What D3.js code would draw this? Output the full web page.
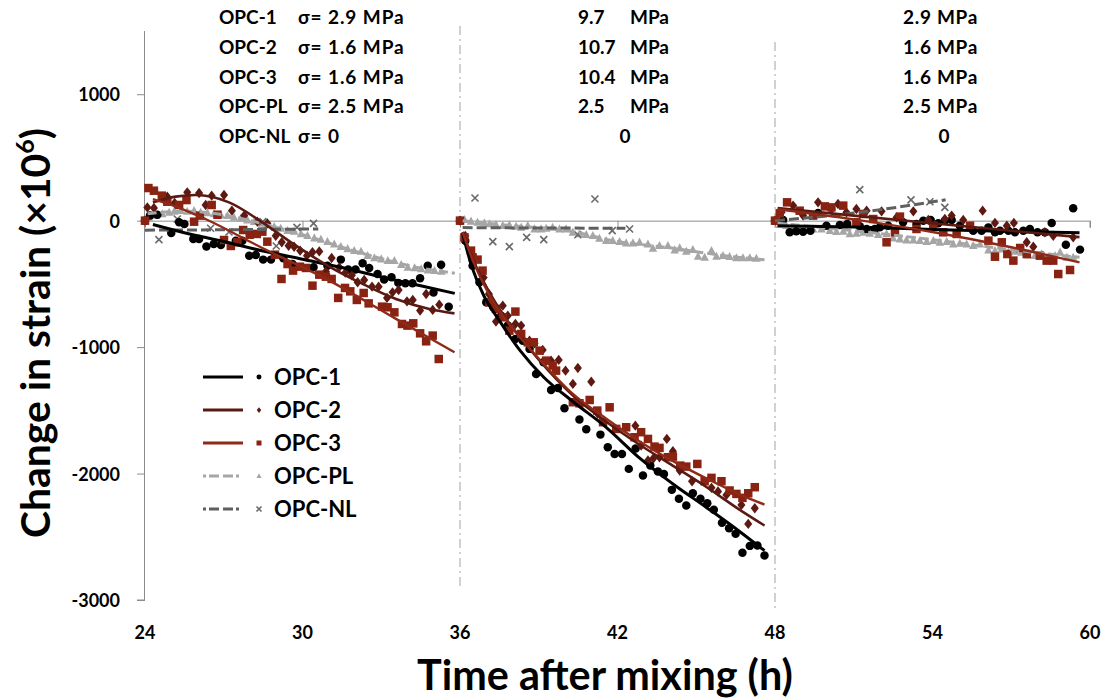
<!DOCTYPE html>
<html>
<head>
<meta charset="utf-8">
<script src="https://cdn.jsdelivr.net/npm/d3@7"></script>
<style>
  html, body { margin: 0; padding: 0; background: #fff; }
  svg text { font-family: Lato, "Open Sans", sans-serif; font-weight: 700; fill: #000; }
</style>
</head>
<body>
<svg id="chart" width="1110" height="700"></svg>
<script>
// ---------------- DATA ----------------
const xTicks = [24, 30, 36, 42, 48, 54, 60];
const yTicks = [1000, 0, -1000, -2000, -3000];
const seriesNames = ["OPC-1", "OPC-2", "OPC-3", "OPC-PL", "OPC-NL"];
const loadTimes = [36, 48];

// annotation rows (stress per stage)
const stage1Labels = ["OPC-1", "OPC-2", "OPC-3", "OPC-PL", "OPC-NL"];
const stage1Stress = ["σ= 2.9 MPa", "σ= 1.6 MPa", "σ= 1.6 MPa", "σ= 2.5 MPa", "σ= 0"];
const stage2Stress = ["9.7", "10.7", "10.4", "2.5", "0"];
const stage3Stress = ["2.9", "1.6", "1.6", "2.5", "0"];

// OPC-1 measured points [h, microstrain]
const opc1Points = [
  [24,0],[24.19,40],[24.47,47],[25.0,-98],[25.3,-13],[25.5,-26],[25.84,-145],[26.06,-145],[26.34,-205],[26.62,-184],
  [26.89,-192],[27.46,-158],[27.71,-158],[27.97,-277],[28.22,-271],[28.5,-308],[28.8,-308],[29.27,-298],[29.62,-343],
  [30.42,-369],[30.95,-356],[31.46,-308],[31.74,-387],[32.02,-387],[32.29,-337],[32.54,-374],[32.86,-421],[33.11,-466],
  [33.39,-448],[33.65,-492],[33.92,-495],[34.19,-495],[34.48,-456],[34.77,-356],[34.99,-569],[35.28,-348],[35.57,-680],
  [36,0],[36.2,-158],[36.48,-356],[36.74,-487],[37.0,-646],[37.27,-685],[37.57,-751],[37.82,-830],[38.11,-935],[38.39,-949],
  [38.65,-1014],[38.9,-1212],[39.18,-1120],[39.47,-1339],[39.73,-1323],[39.98,-1484],[40.55,-1573],[40.81,-1650],
  [41.35,-1692],[41.63,-1792],[41.89,-1845],[42.17,-1845],[42.43,-1963],[42.69,-1802],[42.97,-2016],[43.25,-1937],
  [43.54,-1984],[43.77,-2003],[44.07,-2129],[44.34,-2200],[44.62,-2253],[44.87,-2156],[45.16,-2200],[45.42,-2235],
  [45.67,-2287],[45.98,-2390],[46.25,-2432],[46.5,-2477],[46.76,-2627],[47.04,-2572],[47.33,-2569],[47.6,-2648],
  [48,0],[48.31,5],[48.56,-92],[48.81,-84],[49.07,-87],[49.35,-79],[49.64,61],[49.96,-40],[50.47,-34],[50.75,-26],
  [51.23,-45],[51.49,-66],[51.8,-66],[51.99,-53],[52.31,-40],[52.88,-13],[53.39,-26],[53.65,0],[53.93,5],[54.22,-21],
  [54.47,0],[54.73,5],[55.04,-40],[55.55,-79],[55.87,-79],[56.13,-53],[56.38,-92],[56.57,-79],[56.89,-79],[57.14,-92],
  [57.46,-79],[57.71,-66],[58.0,-92],[58.28,-92],[58.54,-18],[59.08,-190],[59.36,98],[59.62,-229]
];
const opc2Points = [
  [24,0],[24.09,105],[24.34,100],[24.85,190],[25.13,140],[25.61,224],[26.06,219],[26.31,124],[26.54,198],[27.01,203],
  [27.31,79],[27.78,40],[28.28,-8],[28.66,-21],[28.98,-119],[29.21,-171],[29.47,-198],[29.68,-206],[29.91,-237],
  [30.17,-277],[30.38,-250],[30.64,-243],[30.89,-403],[31.11,-295],[31.4,-369],[31.63,-411],[31.88,-432],[32.1,-487],
  [32.35,-469],[32.65,-522],[32.9,-522],[33.22,-611],[33.43,-567],[33.66,-548],[33.98,-638],[34.2,-627],[34.48,-711],
  [34.71,-580],[34.96,-706],[35.21,-664],
  [36,0],[36.2,-120],[36.5,-300],[36.9,-450],[37.1,-580],[37.37,-798],[37.63,-672],[37.82,-751],[38.11,-817],[38.33,-830],
  [38.65,-949],[38.84,-970],[39.15,-1022],[39.47,-1107],[39.76,-1101],[40.02,-1186],[40.3,-1291],[40.49,-1165],
  [41.0,-1273],[41.25,-1528],[42.68,-1621],[42.9,-1779],[43.16,-1897],[43.37,-1879],[43.6,-1871],[43.88,-1726],
  [44.11,-1823],[44.37,-1976],[44.84,-2061],[45.58,-2113],[45.83,-2142],[46.15,-2169],[46.72,-2248],[46.98,-2398],[47.23,-2274],
  [48,0],[48.25,66],[48.69,119],[49.07,40],[49.64,145],[50.15,92],[50.4,132],[50.72,66],[51.1,92],[51.49,79],[52.06,74],
  [52.63,26],[53.27,74],[53.84,5],[54.47,13],[54.73,40],[55.17,5],[55.91,79],[56.38,-18],[56.83,-40],[57.1,-18],
  [57.59,-171],[57.84,-206],[58.28,-92],[58.6,-119],[59.36,-132]
];
const opc3Points = [
  [24,0],[24.13,258],[24.34,237],[24.64,198],[24.85,150],[25.3,124],[25.58,163],[25.87,-8],[26.09,40],[26.54,124],
  [26.76,47],[27.01,-153],[27.27,-200],[27.52,-171],[27.74,-74],[27.99,-111],[28.26,-105],[28.47,-87],[28.66,-166],
  [28.95,-269],[29.2,-461],[29.43,-343],[29.64,-395],[29.9,-364],[30.13,-374],[30.38,-514],[30.64,-427],[30.89,-443],
  [31.11,-461],[31.36,-611],[31.62,-532],[31.82,-559],[32.07,-627],[32.33,-572],[32.52,-654],[33.03,-680],[33.24,-685],
  [33.5,-725],[33.79,-817],[34.0,-830],[34.22,-812],[34.48,-891],[34.71,-954],[34.96,-909],[35.19,-1094],
  [36,0],[36.17,-132],[36.42,-237],[36.48,-290],[36.67,-308],[36.86,-395],[37.12,-646],[37.37,-698],[37.63,-764],
  [37.88,-870],[38.11,-719],[38.33,-896],[38.58,-962],[38.81,-962],[39.03,-1028],[39.28,-1107],[39.53,-1146],
  [39.66,-1186],[40.3,-1436],[40.55,-1444],[40.94,-1418],[41.23,-1502],[41.45,-1594],[41.7,-1476],[41.95,-1647],
  [42.33,-1634],[42.65,-1713],[42.9,-1673],[43.16,-1726],[43.41,-1787],[43.6,-1797],[43.92,-1871],[44.11,-1866],
  [44.39,-1937],[44.62,-1945],[45.04,-1924],[45.32,-2061],[45.58,-2034],[45.96,-2061],[46.27,-2134],[46.53,-2161],
  [46.76,-2192],[46.98,-2156],[47.23,-2108],
  [48,0],[48.18,58],[48.46,145],[48.94,79],[49.45,40],[49.9,113],[50.15,105],[50.6,119],[51.1,-13],[51.36,53],
  [51.74,13],[52.25,-171],[52.57,-92],[52.76,32],[53.39,-66],[54.03,-40],[54.41,-92],[54.92,-105],[55.43,-40],
  [56.13,-158],[56.38,-285],[56.64,-171],[56.85,-264],[57.08,-316],[57.34,-216],[57.59,-264],[58.09,-277],
  [58.35,-316],[58.6,-316],[58.79,-422],[59.24,-390]
];
const plPoints = [
  [24,0],[24.15,26],[24.41,40],[24.66,53],[24.92,66],[25.11,74],[25.36,79],[25.61,74],[25.87,79],[26.12,66],[26.38,61],
  [26.63,53],[26.89,45],[27.14,40],[27.39,26],[27.65,18],[27.9,5],[28.16,-8],[28.41,-21],[28.66,-34],[28.92,-47],
  [29.17,-61],[29.43,-79],[29.68,-84],[29.94,-105],[30.19,-119],[30.45,-137],[30.7,-148],[30.95,-166],[31.21,-185],
  [31.46,-206],[31.72,-222],[31.97,-237],[32.23,-243],[32.48,-277],[32.74,-295],[33.0,-303],[33.25,-316],[33.5,-316],
  [33.76,-348],[34.01,-369],[34.27,-374],[34.52,-382],[34.78,-390],[35.03,-395],[35.29,-401],
  [36,0],[36.17,8],[36.42,-5],[36.67,-13],[36.93,-18],[37.12,-26],[37.37,-32],[37.63,-40],[37.88,-34],[38.14,-45],
  [38.33,-53],[38.58,-40],[38.84,-66],[39.09,-66],[39.28,-61],[39.53,-53],[39.79,-66],[40.04,-66],[40.3,-92],
  [40.55,-105],[40.81,-111],[41.06,-119],[41.31,-140],[41.57,-158],[41.82,-158],[42.08,-166],[42.33,-177],[42.59,-177],
  [42.84,-171],[43.16,-185],[43.35,-219],[43.6,-198],[43.92,-198],[44.18,-232],[44.37,-216],[44.62,-243],[44.87,-229],
  [45.07,-282],[45.32,-290],[45.58,-237],[45.77,-282],[46.02,-277],[46.27,-285],[46.53,-295],[46.78,-295],[47.04,-295],
  [47.29,-298],
  [48,0],[48.18,-32],[48.43,-40],[48.69,-53],[48.94,-66],[49.2,-74],[49.45,-66],[49.77,-66],[50.09,-79],[50.34,-87],
  [50.6,-84],[50.85,-105],[51.1,-100],[51.36,-92],[51.61,-100],[51.93,-111],[52.25,-105],[52.5,-137],[52.76,-145],
  [53.01,-153],[53.27,-153],[53.52,-158],[53.78,-166],[54.03,-158],[54.28,-171],[54.54,-166],[54.79,-185],[55.04,-179],
  [55.3,-185],[55.55,-198],[55.81,-185],[56.13,-232],[56.38,-237],[56.64,-224],[56.89,-250],[57.14,-243],[57.39,-250],
  [57.65,-272],[57.9,-277],[58.16,-263],[58.41,-285],[58.67,-277],[58.86,-250],[59.12,-290],[59.36,-290]
];
const nlPoints = [
  [24,0],[24.53,-150],[25.23,13],[25.87,-140],[26.5,-60],[27.2,-90],[28.49,-8],[29.0,-200],[29.79,-53],[30.42,-21],
  [36,0],[36.57,179],[37.25,-166],[37.88,-205],[38.54,-132],[39.19,-150],[40.49,-111],[41.14,171],[41.8,-79],[42.46,-66],
  [48,0],[51.23,245],[53.18,164],[53.9,150],[54.47,105]
];

// fitted trend lines, one array per stage
const opc1Fit = [
  [[24.3,-30],[25.5,-95],[27,-165],[28.5,-240],[30,-305],[31.5,-370],[33,-445],[34.5,-515],[35.8,-575]],
  [[36.1,-100],[36.4,-330],[36.9,-590],[37.5,-790],[38.3,-1030],[39.2,-1240],[40.3,-1430],[41.6,-1640],[42.8,-1870],[44.1,-2080],[45.4,-2270],[46.6,-2450],[47.6,-2610]],
  [[48.1,-40],[51,-50],[54,-70],[57,-85],[59.6,-95]]
];
const opc2Fit = [
  [[24.3,145],[25.17,190],[25.93,203],[27.2,145],[28.47,-13],[29.75,-198],[31.02,-363],[32.29,-500],[33.56,-619],[34.83,-698],[35.79,-733]],
  [[36.1,-90],[36.5,-310],[37.1,-560],[37.8,-790],[38.4,-950],[39.0,-1100],[40.3,-1383],[41.6,-1594],[42.8,-1766],[44.1,-1937],[45.4,-2108],[46.6,-2279],[47.6,-2411]],
  [[48.1,100],[51,40],[54,-20],[57,-80],[59.6,-130]]
];
const opc3Fit = [
  [[24.3,170],[25.2,110],[26.3,13],[28.47,-216],[31.02,-474],[33.56,-777],[35.79,-1041]],
  [[36.1,-90],[36.5,-320],[37.1,-580],[37.8,-800],[38.4,-950],[39.0,-1090],[40.3,-1370],[41.6,-1570],[42.8,-1740],[44.1,-1900],[45.4,-2040],[46.6,-2160],[47.6,-2245]],
  [[48.1,90],[51,10],[54,-90],[57,-210],[59.6,-330]]
];
const plFit = [
  [[24.1,55],[25.5,75],[27,45],[28.5,-25],[30,-110],[31.5,-210],[33,-300],[34.5,-375],[35.8,-415]],
  [[36.1,0],[38,-40],[40,-75],[42,-165],[44,-215],[46,-275],[47.6,-310]],
  [[48.1,-20],[51,-80],[54,-150],[57,-230],[59.6,-290]]
];
const nlFit = [
  [[24,-75],[27,-72],[30.6,-65]],
  [[36.1,-55],[39,-58],[42.3,-60]],
  [[48,0],[51,60],[54.5,165]]
];

// ---------------- DRAW ----------------
const svg = d3.select("#chart");
const x = d3.scaleLinear().domain([24, 60]).range([145, 1090]);
const y = d3.scaleLinear().domain([-3000, 1500]).range([600, 31]);

const styles = {
  "OPC-1": { color: "#000000", line: "#000000", width: 3, dash: null, marker: "circle" },
  "OPC-2": { color: "#5e1a12", line: "#5a1a12", width: 2.6, dash: null, marker: "diamond" },
  "OPC-3": { color: "#8a2212", line: "#902a18", width: 2.4, dash: null, marker: "square" },
  "OPC-PL": { color: "#a6a6a6", line: "#a6a6a6", width: 3, dash: "9,4", marker: "triangle" },
  "OPC-NL": { color: "#6a6a6a", line: "#5f5f5f", width: 3, dash: "10,4", marker: "cross" }
};
const pointsBy = { "OPC-1": opc1Points, "OPC-2": opc2Points, "OPC-3": opc3Points, "OPC-PL": plPoints, "OPC-NL": nlPoints };
const fitBy = { "OPC-1": opc1Fit, "OPC-2": opc2Fit, "OPC-3": opc3Fit, "OPC-PL": plFit, "OPC-NL": nlFit };

function markerPath(type, s) {
  const h = s / 2;
  switch (type) {
    case "circle": return d3.symbol(d3.symbolCircle, s * s * 0.78)();
    case "diamond": return `M0,${-h * 1.15}L${h * 0.9},0L0,${h * 1.15}L${-h * 0.9},0Z`;
    case "square": return `M${-h},${-h}H${h}V${h}H${-h}Z`;
    case "triangle": return `M0,${-h * 1.1}L${h},${h * 0.8}L${-h},${h * 0.8}Z`;
    case "cross": return `M${-h},${-h}L${h},${h}M${-h},${h}L${h},${-h}`;
  }
}
function drawMarker(g, type, color, s, px, py) {
  const p = g.append("path").attr("d", markerPath(type, s)).attr("transform", `translate(${px},${py})`);
  if (type === "cross") p.attr("fill", "none").attr("stroke", color).attr("stroke-width", 1.6);
  else p.attr("fill", color);
}

// axes
const axisColor = "#8c8c8c";
const yAxis = d3.axisLeft(y).tickValues(yTicks).tickSize(8).tickFormat(d3.format("d"));
const gy = svg.append("g").attr("transform", `translate(${x(24)},0)`).call(yAxis);
gy.select(".domain").attr("stroke", axisColor).attr("d", `M-0.5,${y(1500)}V${y(-3000)}H-8`);
gy.selectAll(".tick line").attr("stroke", axisColor);
gy.selectAll(".tick text").attr("font-size", 18).attr("x", -25).attr("dy", "0.36em")
  .style("font-family", "Lato, sans-serif").style("font-weight", 700).attr("fill", "#000")
  .text(d => d < 0 ? "-" + Math.abs(d) : d);

// x zero line with ticks going down
const xAxis = d3.axisBottom(x).tickValues(xTicks).tickSize(7).tickFormat("");
const gx = svg.append("g").attr("transform", `translate(0,${y(0)})`).call(xAxis);
gx.select(".domain").attr("stroke", axisColor).attr("d", `M${x(24)},0.5H${x(60)}V7`);
gx.selectAll(".tick line").attr("stroke", axisColor);

// x tick labels at the bottom
svg.append("g").selectAll("text").data(xTicks).join("text")
  .attr("x", d => x(d)).attr("y", 639).attr("text-anchor", "middle").attr("font-size", 18)
  .text(d => d);

// load-change vertical dash-dot lines
svg.append("g").selectAll("line").data(loadTimes).join("line")
  .attr("x1", d => x(d)).attr("x2", d => x(d))
  .attr("y1", (d, i) => i === 0 ? 26 : 42).attr("y2", (d, i) => i === 0 ? 588 : 610)
  .attr("stroke", "#b3b3b3").attr("stroke-width", 1.2).attr("stroke-dasharray", "9,4,2,4");

// points
const drawOrder = ["OPC-PL", "OPC-NL", "OPC-1", "OPC-2", "OPC-3"];
const sizes = { "OPC-1": 8.5, "OPC-2": 9, "OPC-3": 8.5, "OPC-PL": 8.5, "OPC-NL": 7 };
drawOrder.forEach(name => {
  const st = styles[name];
  const g = svg.append("g");
  pointsBy[name].forEach(p => drawMarker(g, st.marker, st.color, sizes[name], x(p[0]), y(p[1])));
});

// fit lines
const line = d3.line().x(d => x(d[0])).y(d => y(d[1])).curve(d3.curveMonotoneX);
["OPC-PL", "OPC-NL", "OPC-1", "OPC-2", "OPC-3"].forEach(name => {
  const st = styles[name];
  fitBy[name].forEach(seg => {
    svg.append("path").attr("d", line(seg)).attr("fill", "none")
      .attr("stroke", st.line).attr("stroke-width", st.width)
      .attr("stroke-dasharray", st.dash);
  });
});

// legend
const legendRows = [377, 410, 443, 476, 509];
const lg = svg.append("g");
seriesNames.forEach((name, i) => {
  const st = styles[name];
  const yy = legendRows[i];
  lg.append("line").attr("x1", 203).attr("x2", 243).attr("y1", yy).attr("y2", yy)
    .attr("stroke", st.line).attr("stroke-width", 3).attr("stroke-dasharray", st.dash ? "3,3,10,4,10" : null);
  drawMarker(lg, st.marker, st.color, 5, 259, yy);
  lg.append("text").attr("x", 274).attr("y", yy + 8).attr("font-size", 22).text(name);
});

// annotations
const rowY = [24, 54, 84, 113, 143];
const ann = svg.append("g");
const aSize = 19;
stage1Labels.forEach((t, i) => {
  ann.append("text").attr("x", 219).attr("y", rowY[i]).attr("font-size", aSize).text(t);
  ann.append("text").attr("x", 298).attr("y", rowY[i]).attr("font-size", aSize)
    .attr("letter-spacing", 0.9).text(stage1Stress[i]);
});
stage2Stress.forEach((t, i) => {
  if (t === "0") {
    ann.append("text").attr("x", 625).attr("y", rowY[i]).attr("text-anchor", "middle").attr("font-size", aSize).text(t);
  } else {
    ann.append("text").attr("x", 578).attr("y", rowY[i]).attr("font-size", aSize).text(t);
    ann.append("text").attr("x", 669).attr("y", rowY[i]).attr("text-anchor", "end").attr("font-size", aSize).text("MPa");
  }
});
stage3Stress.forEach((t, i) => {
  if (t === "0") {
    ann.append("text").attr("x", 944).attr("y", rowY[i]).attr("text-anchor", "middle").attr("font-size", aSize).text(t);
  } else {
    ann.append("text").attr("x", 903).attr("y", rowY[i]).attr("font-size", aSize)
      .attr("letter-spacing", 0.7).text(t + " MPa");
  }
});

// axis titles (font size adjusted so the title spans the same length as in the original)
const yt = svg.append("text").attr("transform", "translate(50,333) rotate(-90)")
  .attr("text-anchor", "middle").attr("font-size", 36);
yt.append("tspan").text("Change in strain (×10");
yt.append("tspan").attr("font-size", 22).attr("dy", -14).text("6");
yt.append("tspan").attr("dy", 14).text(")");
const ytLen = yt.node().getComputedTextLength();
const ytScale = 410 / ytLen;
yt.attr("font-size", 36 * ytScale);
yt.selectAll("tspan").filter((d, i) => i === 1).attr("font-size", 22 * ytScale).attr("dy", -14 * ytScale);
yt.selectAll("tspan").filter((d, i) => i === 2).attr("dy", 14 * ytScale);

const xt = svg.append("text").attr("x", 605).attr("y", 690).attr("text-anchor", "middle")
  .attr("font-size", 36).text("Time after mixing (h)");
const xtLen = xt.node().getComputedTextLength();
xt.attr("font-size", 36 * 376 / xtLen);
</script>
</body>
</html>
